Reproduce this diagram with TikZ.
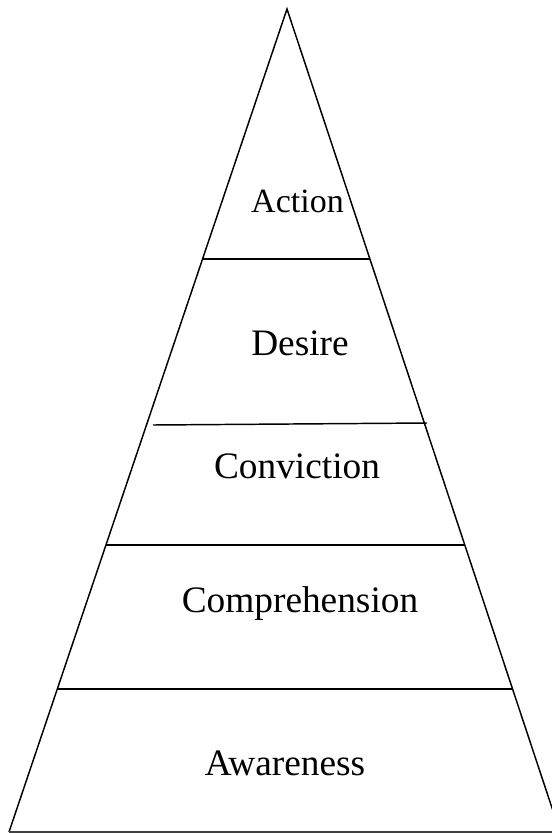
\documentclass[tikz,border=0pt]{standalone}
\usepackage{fontspec}
\setmainfont{Liberation Serif}
\usetikzlibrary{calc}

\begin{document}
\begin{tikzpicture}[x=0.75pt,y=-0.75pt,line width=1.1pt,
  stage/.style={font=\fontsize{28}{33}\selectfont,anchor=base,inner sep=0pt}]
\clip (0,0) rectangle (552,833);
\coordinate (apex) at (287,9);
\coordinate (bl) at (9,832);
\coordinate (br) at (560,832);
\draw (bl)--(apex)--(br);
\draw[line width=0.9pt,black!75] (bl)--(br);
\foreach \y in {259,545,689}{\draw ($(apex)!{(\y-9)/823}!(bl)$)--($(apex)!{(\y-9)/823}!(br)$);}
\draw (153,425)--(427,423);
\node[stage,font=\fontsize{25.5}{30}\selectfont] (action) at (297.5,212) {Action};
\node[stage] (desire) at (300,355) {Desire};
\node[stage] (conviction) at (297,478) {Conviction};
\node[stage] (comprehension) at (300,612) {Comprehension};
\node[stage] (awareness) at (285,775) {Awareness};
\end{tikzpicture}
\end{document}
